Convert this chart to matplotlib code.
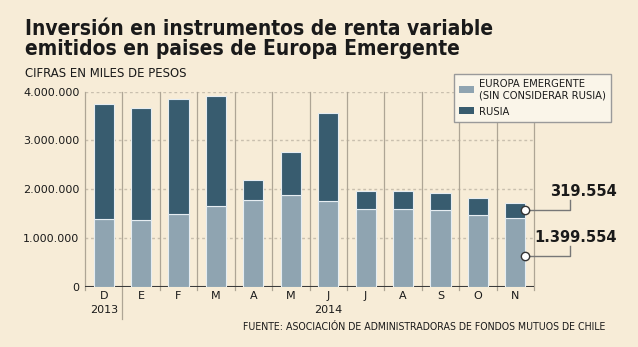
import matplotlib
matplotlib.use("Agg")
import matplotlib.pyplot as plt
from matplotlib.patches import Patch

months = ["D", "E", "F", "M", "A", "M", "J", "J", "A", "S", "O", "N"]
europa = [1390000, 1360000, 1500000, 1650000, 1780000, 1880000, 1750000,
          1590000, 1590000, 1570000, 1480000, 1399554]
total = [3740000, 3670000, 3840000, 3910000, 2190000, 2760000, 3560000,
         1960000, 1960000, 1930000, 1820000, 1719108]
rusia = [t - e for t, e in zip(total, europa)]
yticks = [0, 1000000, 2000000, 3000000, 4000000]
ytick_labels = ["0", "1.000.000", "2.000.000", "3.000.000", "4.000.000"]
legend_labels = ["EUROPA EMERGENTE\n(SIN CONSIDERAR RUSIA)", "RUSIA"]
ann_rusia = "319.554"
ann_europa = "1.399.554"

BG = "#f7ecd7"
LIGHT = "#8fa4b1"
DARK = "#385c6f"
SEP = "#aea595"
TXT = "#1a1a1a"
COND = dict(family="DejaVu Sans", stretch="condensed")

W, H = 638, 347
fig = plt.figure(figsize=(W / 100, H / 100), dpi=100, facecolor=BG)
ax = fig.add_axes([85 / W, 1 - 286.7 / H, (534 - 85) / W, (286.7 - 91.7) / H])
ax.set_facecolor(BG)
for s in ax.spines.values():
    s.set_visible(False)

x = list(range(len(months)))
ax.set_xlim(-0.5, len(months) - 0.5)
ax.set_ylim(0, 4000000)

# gridlines
for yv in yticks[1:]:
    ax.axhline(yv, color="#c9bfae", lw=1, ls=(0, (2, 2)), zorder=0)
# separators
for k in range(len(months) + 1):
    b = k - 0.5
    ymin = -660000 if k == 1 else -60000
    ax.plot([b, b], [ymin, 4000000], color=SEP, lw=0.9, zorder=1, clip_on=False)
# baseline
ax.axhline(0, color="#3b3b3b", lw=1.5, zorder=1.5)

ax.bar(x, europa, width=0.54, color=LIGHT, edgecolor="#e6edf2", lw=0.8, zorder=2)
ax.bar(x, rusia, width=0.54, bottom=europa, color=DARK, edgecolor="#e6edf2", lw=0.8, zorder=2)

ax.set_yticks(yticks)
ax.set_yticklabels(ytick_labels, fontsize=8, color=TXT)
ax.set_xticks(x)
ax.set_xticklabels(months, fontsize=8, color=TXT)
ax.tick_params(length=0, pad=4)
ax.tick_params(axis="x", pad=3)

# years
trans = ax.get_xaxis_transform()
ax.text(0, -0.12, "2013", transform=trans, ha="center", va="center", fontsize=8, color=TXT)
ax.text((1 + len(months) - 1) / 2, -0.12, "2014", transform=trans, ha="center", va="center",
        fontsize=8, color=TXT)

# legend
handles = [Patch(facecolor=LIGHT, edgecolor="none"), Patch(facecolor=DARK, edgecolor="none")]
leg = fig.legend(handles, legend_labels, loc="upper left",
                 bbox_to_anchor=(454 / W, 1 - 74 / H),
                 prop={"family": "DejaVu Sans", "stretch": "condensed", "size": 8},
                 frameon=True, fancybox=False, framealpha=1, facecolor="#faf5e9",
                 edgecolor="#9a9a9a", handlelength=1.35, handleheight=0.6,
                 handletextpad=0.45, borderpad=0.45, labelspacing=0.55, borderaxespad=0)
leg.get_frame().set_linewidth(1)
for t in leg.get_texts():
    t.set_color(TXT)

# annotations on last bar
last = len(months) - 1
xr = last + 0.27
xc = last + 1.45
ann = [(europa[last] + rusia[last] * 0.54, 1780000, 1860000, ann_rusia),
       (europa[last] * 0.45, 835000, 923000, ann_europa)]
for ypt, ytop, ty, txt in ann:
    ax.plot([xr, xc, xc], [ypt, ypt, ytop], color="#777777", lw=1, clip_on=False, zorder=3)
    ax.plot([xr], [ypt], marker="o", ms=6, mfc="white", mec="#333333", mew=1,
            clip_on=False, zorder=4)
    ax.text(last + 2.71, ty, txt, ha="right", va="baseline", fontsize=10.5,
            fontweight="bold", color=TXT, clip_on=False)

# titles
fig.text(25 / W, 1 - 35 / H, "Inversión en instrumentos de renta variable",
         ha="left", va="baseline", fontsize=15, fontweight="bold", color=TXT, **COND)
fig.text(25 / W, 1 - 55 / H, "emitidos en paises de Europa Emergente",
         ha="left", va="baseline", fontsize=15, fontweight="bold", color=TXT, **COND)
fig.text(25 / W, 1 - 77 / H, "CIFRAS EN MILES DE PESOS", ha="left", va="baseline",
         fontsize=9.4, color=TXT, **COND)
fig.text(605 / W, 1 - 330 / H, "FUENTE: ASOCIACIÓN DE ADMINISTRADORAS DE FONDOS MUTUOS DE CHILE",
         ha="right", va="baseline", fontsize=7.6, color=TXT, **COND)

fig.savefig("out.png", dpi=100, facecolor=BG)
